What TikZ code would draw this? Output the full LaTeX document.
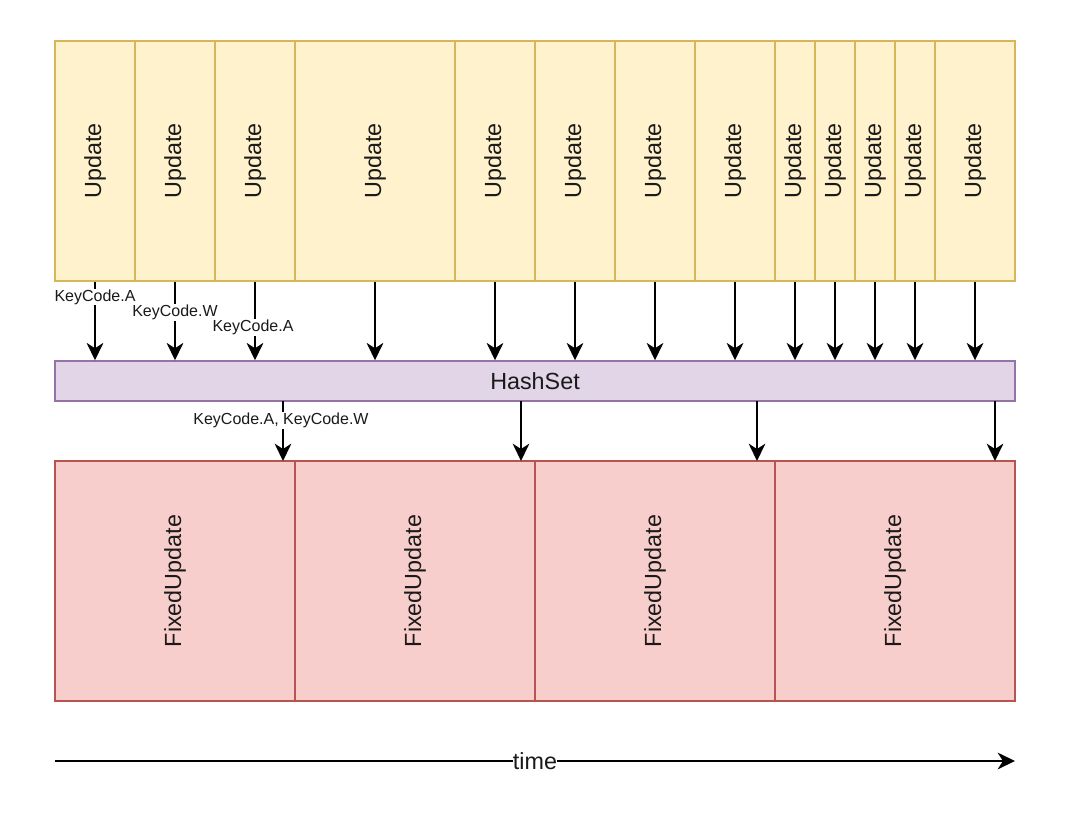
\documentclass[tikz,border=0pt]{standalone}
\usepackage{fontspec}
\setmainfont{Liberation Sans}
\usetikzlibrary{arrows.meta}
\definecolor{updfill}{HTML}{FFF2CC}
\definecolor{upddraw}{HTML}{D6B656}
\definecolor{hashfill}{HTML}{E1D5E7}
\definecolor{hashdraw}{HTML}{9673A6}
\definecolor{fixfill}{HTML}{F8CECC}
\definecolor{fixdraw}{HTML}{B85450}
\definecolor{txt}{HTML}{1A1A1A}
\tikzset{
  box/.style={rectangle, line width=1.1pt, inner sep=0pt, text=txt, font=\fontsize{17.5}{20}\selectfont},
  upd/.style={box, fill=updfill, draw=upddraw, minimum height=180pt},
  hashbox/.style={box, fill=hashfill, draw=hashdraw, minimum width=720pt, minimum height=30pt},
  fixbox/.style={box, fill=fixfill, draw=fixdraw, minimum width=180pt, minimum height=180pt},
  arr/.style={line width=1.5pt, -{Stealth[length=13pt, width=12.5pt, inset=4pt]}},
  lbl/.style={fill=white, inner sep=0.5pt, text=txt, font=\fontsize{12}{14}\selectfont},
}
\begin{document}
\begin{tikzpicture}[x=0.75pt, y=-0.75pt]
\useasboundingbox[fill=white] (0,0) rectangle (1074,820);
% Update boxes
\foreach \n/\cx/\w in {1/95/60, 2/175/60, 3/255/60, 4/375/120, 5/495/60, 6/575/60, 7/655/60, 8/735/60, 9/795/30, 10/835/30, 11/875/30, 12/915/30, 13/975/60}{
  \node[upd, minimum width=\w pt] (u\n) at (\cx,161) {\rotatebox{90}{Update}};
}
% HashSet
\node[hashbox] (hash) at (535,381) {HashSet};
% FixedUpdate boxes
\foreach \n/\cx in {1/175, 2/415, 3/655, 4/895}{
  \node[fixbox] (f\n) at (\cx,581) {\rotatebox{90}{FixedUpdate}};
}
% arrows update -> hash
\foreach \n in {1,...,13}{
  \draw[arr] (u\n.south) -- (u\n.south |- hash.north);
}
% labels on first arrows
\node[lbl] (l1) at (95,297) {KeyCode.A};
\node[lbl] (l2) at (175,312.5) {KeyCode.W};
\node[lbl] (l3) at (253,327.5) {KeyCode.A};
% arrows hash -> fixed
\coordinate (h1) at (283,401); \coordinate (t1) at (283,461);
\coordinate (h2) at (521,401); \coordinate (t2) at (521,461);
\coordinate (h3) at (757,401); \coordinate (t3) at (757,461);
\coordinate (h4) at (995,401); \coordinate (t4) at (995,461);
\foreach \n in {1,...,4}{
  \draw[arr] (h\n) -- (t\n);
}
\node[lbl] (l4) at (281,420.5) {KeyCode.A, KeyCode.W};
% time axis
\coordinate (ts) at (55,761);
\coordinate (te) at (1015,761);
\draw[arr] (ts) -- (te);
\node[lbl, font=\fontsize{17.5}{20}\selectfont, inner sep=0pt] (time) at (535,761) {time};
\end{tikzpicture}
\end{document}
